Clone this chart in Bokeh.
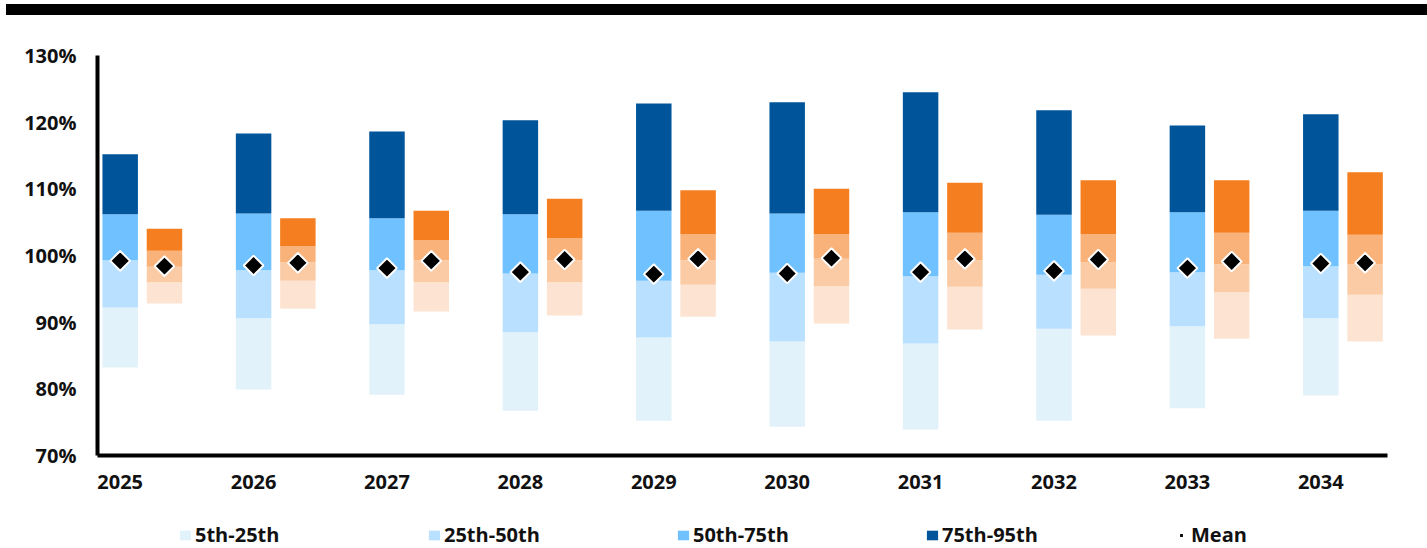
from bokeh.plotting import figure
from bokeh.models import (ColumnDataSource, FixedTicker, Legend, LegendItem, Div,
                          PrintfTickFormatter, Range1d)
from bokeh.layouts import column
from bokeh.embed import file_html
from bokeh.resources import INLINE

years = ["2025", "2026", "2027", "2028", "2029", "2030", "2031", "2032", "2033", "2034"]

# Blue series percentiles (%)
blue_p5 = [83.2, 79.9, 79.1, 76.7, 75.2, 74.3, 73.9, 75.2, 77.1, 79.0]
blue_p25 = [92.2, 90.6, 89.7, 88.5, 87.7, 87.1, 86.8, 89.0, 89.4, 90.6]
blue_p50 = [99.3, 97.8, 97.8, 97.3, 96.2, 97.4, 96.9, 97.1, 97.5, 98.4]
blue_p75 = [106.2, 106.3, 105.6, 106.2, 106.7, 106.3, 106.5, 106.1, 106.5, 106.7]
blue_p95 = [115.2, 118.3, 118.6, 120.3, 122.8, 123.0, 124.5, 121.8, 119.5, 121.2]
blue_mean = [99.2, 98.5, 98.1, 97.5, 97.2, 97.3, 97.5, 97.7, 98.1, 98.8]

# Orange series percentiles (%)
orange_p5 = [92.8, 92.0, 91.6, 91.0, 90.8, 89.8, 88.9, 88.0, 87.5, 87.1]
orange_p25 = [96.0, 96.2, 96.0, 96.0, 95.6, 95.4, 95.3, 95.0, 94.5, 94.1]
orange_p50 = [98.3, 99.0, 99.3, 99.3, 99.3, 99.5, 99.3, 99.0, 98.7, 98.7]
orange_p75 = [100.7, 101.4, 102.3, 102.6, 103.2, 103.2, 103.4, 103.2, 103.4, 103.1]
orange_p95 = [104.0, 105.6, 106.7, 108.5, 109.8, 110.0, 110.9, 111.3, 111.3, 112.5]
orange_mean = [98.4, 98.9, 99.2, 99.4, 99.5, 99.6, 99.5, 99.4, 99.1, 98.9]

band_labels = ["5th-25th", "25th-50th", "50th-75th", "75th-95th"]
blue_colors = ["#e2f2fa", "#b9e0fe", "#6fc1ff", "#00559a"]
orange_colors = ["#fde4d2", "#fbcba5", "#fab27b", "#f57f20"]
y_ticks = [70, 80, 90, 100, 110, 120, 130]

FONT = "Open Sans"
TXT = "#111111"

xb = list(range(len(years)))
xo = [i + 0.332 for i in xb]
W = 0.266

p = figure(width=1427, height=480, output_backend="svg", toolbar_location=None,
           x_range=Range1d(-0.17, 9.5), y_range=Range1d(70, 130),
           min_border_left=97, min_border_right=40, min_border_top=40, min_border_bottom=40)
p.outline_line_color = None
p.xgrid.visible = False
p.ygrid.visible = False

blue_levels = [blue_p5, blue_p25, blue_p50, blue_p75, blue_p95]
orange_levels = [orange_p5, orange_p25, orange_p50, orange_p75, orange_p95]

for k in range(4):
    src = ColumnDataSource(dict(x=xb, bottom=blue_levels[k], top=blue_levels[k + 1]))
    p.vbar(x="x", width=W, bottom="bottom", top="top", source=src,
           fill_color=blue_colors[k], line_color=None)
for k in range(4):
    src = ColumnDataSource(dict(x=xo, bottom=orange_levels[k], top=orange_levels[k + 1]))
    p.vbar(x="x", width=W, bottom="bottom", top="top", source=src,
           fill_color=orange_colors[k], line_color=None)

MEAN_STYLE = dict(marker="square", angle=0.785398, fill_color="black",
                  line_color="white", line_width=2)
p.scatter(xb, blue_mean, size=14, **MEAN_STYLE)
p.scatter(xo, orange_mean, size=14, **MEAN_STYLE)

# axes
for ax in (p.xaxis[0], p.yaxis[0]):
    ax.axis_line_width = 4
    ax.axis_line_color = "black"
    ax.major_tick_line_color = None
    ax.minor_tick_line_color = None
    ax.major_label_text_font = FONT
    ax.major_label_text_font_style = "bold"
    ax.major_label_text_font_size = "20px"
    ax.major_label_text_color = TXT

p.yaxis.ticker = FixedTicker(ticks=y_ticks)
p.yaxis.formatter = PrintfTickFormatter(format="%d%%")
p.yaxis.major_label_standoff = 15
p.xaxis.ticker = FixedTicker(ticks=xb)
p.xaxis.major_label_overrides = {i: y for i, y in enumerate(years)}
p.xaxis.major_label_standoff = 13

# legend strip (separate small figure below the chart; its renderers are hidden
# copies of the blue series, used only for the legend swatches)
lg = figure(width=1427, height=53, output_backend="svg", toolbar_location=None,
            x_range=Range1d(-0.17, 9.5), y_range=Range1d(70, 130),
            min_border_left=97, min_border_right=40, min_border_top=0, min_border_bottom=0)
lg.axis.visible = False
lg.grid.visible = False
lg.outline_line_color = None

leg_renderers = []
for k in range(4):
    src = ColumnDataSource(dict(x=xb, bottom=blue_levels[k], top=blue_levels[k + 1]))
    leg_renderers.append(lg.vbar(x="x", width=W, bottom="bottom", top="top", source=src,
                                 fill_color=blue_colors[k], line_color=None, visible=False))
leg_renderers.append(lg.scatter(xb, blue_mean, size=14, visible=False, **MEAN_STYLE))
labels = band_labels + ["Mean"]
items = [LegendItem(label=labels[k], renderers=[leg_renderers[k]]) for k in range(5)]
legend = Legend(items=items, orientation="horizontal", location=(81, 0),
                label_text_font=FONT, label_text_font_style="bold",
                label_text_font_size="20px", label_text_color=TXT,
                glyph_width=14, glyph_height=12, label_standoff=3, spacing=0,
                label_width=232, padding=0, margin=0,
                inactive_fill_alpha=0, inactive_fill_color="white",
                border_line_color=None, background_fill_alpha=0)
lg.add_layout(legend)

bar = Div(text="", width=1421, height=11, margin=(4, 0, 0, 6),
          styles={"background-color": "black"})

layout = column(bar, p, lg, spacing=0)
open("out.html", "w").write(file_html(layout, INLINE))
